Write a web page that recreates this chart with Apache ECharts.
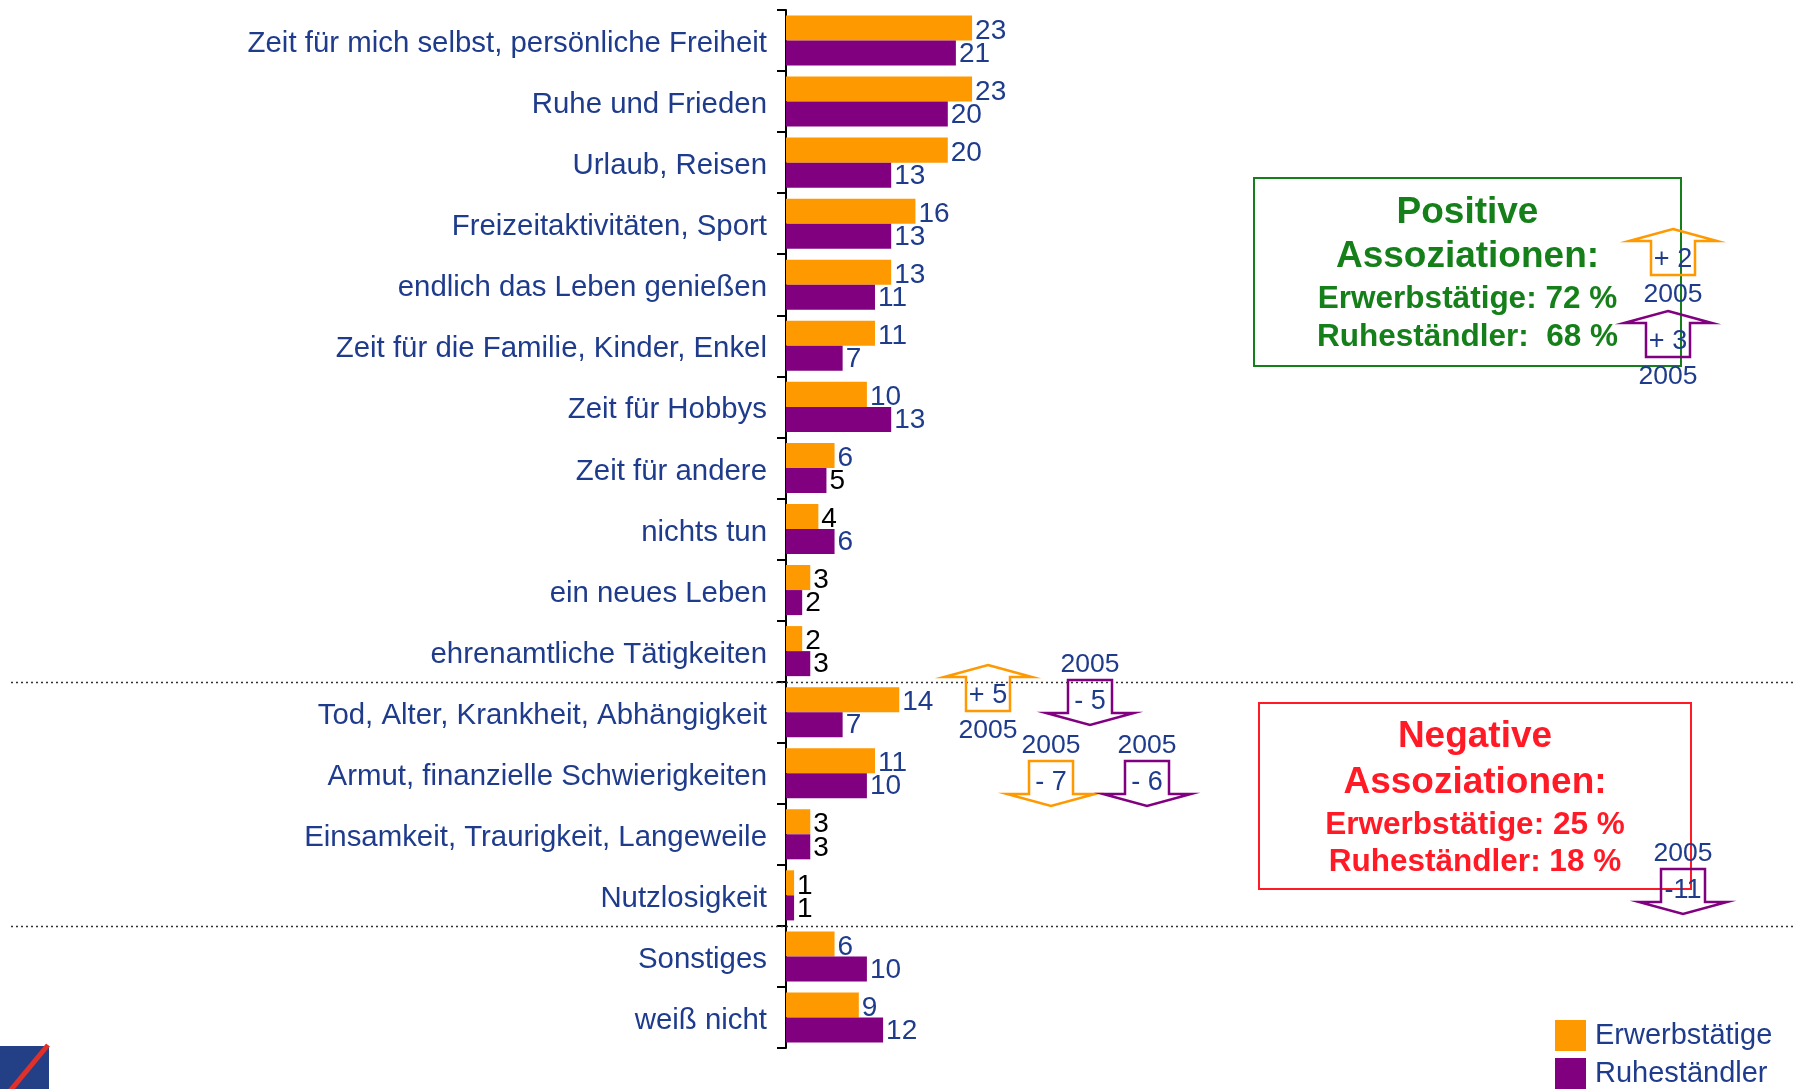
<!DOCTYPE html>
<html>
<head>
<meta charset="utf-8">
<script src="https://cdn.jsdelivr.net/npm/echarts@6/dist/echarts.min.js"></script>
<style>
  html, body { margin: 0; padding: 0; background: #fff; }
  #chart { width: 1795px; height: 1089px; }
</style>
</head>
<body>
<div id="chart"></div>
<script>
// Daten
const categories = [
  'Zeit für mich selbst, persönliche Freiheit',
  'Ruhe und Frieden',
  'Urlaub, Reisen',
  'Freizeitaktivitäten, Sport',
  'endlich das Leben genießen',
  'Zeit für die Familie, Kinder, Enkel',
  'Zeit für Hobbys',
  'Zeit für andere',
  'nichts tun',
  'ein neues Leben',
  'ehrenamtliche Tätigkeiten',
  'Tod, Alter, Krankheit, Abhängigkeit',
  'Armut, finanzielle Schwierigkeiten',
  'Einsamkeit, Traurigkeit, Langeweile',
  'Nutzlosigkeit',
  'Sonstiges',
  'weiß nicht'
];
const erwerbstaetige = [23, 23, 20, 16, 13, 11, 10, 6, 4, 3, 2, 14, 11, 3, 1, 6, 9];
const ruhestaendler = [21, 20, 13, 13, 11, 7, 13, 5, 6, 2, 3, 7, 10, 3, 1, 10, 12];

// Veränderungen zu 2005 (Pfeile)
const changes = [
  { text: '+ 2', dir: 'up', color: '#FF9900', x: 1673, y: 229 },
  { text: '+ 3', dir: 'up', color: '#800080', x: 1668, y: 311 },
  { text: '+ 5', dir: 'up', color: '#FF9900', x: 988, y: 665 },
  { text: '- 5', dir: 'down', color: '#800080', x: 1090, y: 680 },
  { text: '- 7', dir: 'down', color: '#FF9900', x: 1051, y: 761 },
  { text: '- 6', dir: 'down', color: '#800080', x: 1147, y: 761 },
  { text: '-11', dir: 'down', color: '#800080', x: 1683, y: 869 }
];

const NAVY = '#1F3C8C';
const FONT = '"Liberation Sans", Arial, sans-serif';

function withLabelColor(values) {
  return values.map(v => ({
    value: v,
    label: { color: v <= 5 ? '#000' : NAVY }
  }));
}

function arrowGraphic(c) {
  const x = c.x, y = c.y;
  let pts, textY, yearY;
  if (c.dir === 'up') {
    pts = [[x, y], [x + 44, y + 12], [x + 22, y + 12], [x + 22, y + 46],
           [x - 22, y + 46], [x - 22, y + 12], [x - 44, y + 12]];
    textY = y + 31;
    yearY = y + 66;
  } else {
    pts = [[x - 22, y], [x + 22, y], [x + 22, y + 33], [x + 44, y + 33],
           [x, y + 45], [x - 44, y + 33], [x - 22, y + 33]];
    textY = y + 22;
    yearY = y - 15;
  }
  return [
    { type: 'polygon', shape: { points: pts }, style: { fill: 'none', stroke: c.color, lineWidth: 2.5 }, z: 10 },
    { type: 'text', x: x, y: textY, style: { text: c.text, fill: NAVY, font: '27px ' + FONT, align: 'center', verticalAlign: 'middle' }, z: 11 },
    { type: 'text', x: x, y: yearY, style: { text: '2005', fill: NAVY, font: '26.5px ' + FONT, align: 'center', verticalAlign: 'middle' }, z: 11 }
  ];
}

function boxGraphic(x, y, w, h, color, lines) {
  const g = [{ type: 'rect', shape: { x: x, y: y, width: w, height: h }, style: { fill: 'none', stroke: color, lineWidth: 2 }, z: 5 }];
  lines.forEach(l => {
    g.push({ type: 'text', x: x + w / 2 + (l.dx || 0), y: l.y, style: { text: l.text, fill: color, font: 'bold ' + l.size + 'px ' + FONT, align: 'center', verticalAlign: 'middle' }, z: 6 });
  });
  return g;
}

const chart = echarts.init(document.getElementById('chart'));

const option = {
  animation: false,
  textStyle: { fontFamily: FONT },
  grid: { left: 786, top: 10, width: 809, bottom: 41, containLabel: false },
  legend: {
    orient: 'vertical',
    left: 1555,
    top: 1020,
    padding: 0,
    itemWidth: 31,
    itemHeight: 31,
    itemGap: 7,
    icon: 'rect',
    textStyle: { fontSize: 29, color: NAVY, fontFamily: FONT, padding: [0, 0, 0, 4] },
    data: ['Erwerbstätige', 'Ruheständler']
  },
  xAxis: {
    type: 'value',
    min: 0,
    max: 100,
    show: false,
    splitLine: { show: false }
  },
  yAxis: {
    type: 'category',
    inverse: true,
    data: categories,
    axisLine: { show: true, lineStyle: { color: '#000', width: 2 } },
    axisTick: { show: true, length: 9, lineStyle: { color: '#000', width: 2 } },
    axisLabel: {
      margin: 19,
      formatter: v => '{c|' + v + '}',
      rich: { c: { fontSize: 29.4, color: NAVY, fontFamily: FONT, padding: [7, 0, 0, 0] } }
    }
  },
  series: [
    {
      name: 'Erwerbstätige',
      type: 'bar',
      data: withLabelColor(erwerbstaetige),
      itemStyle: { color: '#FF9900' },
      barGap: '0%',
      barCategoryGap: '18%',
      label: { show: true, position: 'right', distance: 3, fontSize: 28, fontFamily: FONT, offset: [0, 3] }
    },
    {
      name: 'Ruheständler',
      type: 'bar',
      data: withLabelColor(ruhestaendler),
      itemStyle: { color: '#800080' },
      barGap: '0%',
      barCategoryGap: '18%',
      label: { show: true, position: 'right', distance: 3, fontSize: 28, fontFamily: FONT, offset: [0, 1] }
    }
  ]
};

chart.setOption(option);

// Trennlinien zwischen den Gruppen (über die Kategorieachse berechnet)
function boundaryY(i) {
  const a = chart.convertToPixel({ yAxisIndex: 0 }, categories[i]);
  const b = chart.convertToPixel({ yAxisIndex: 0 }, categories[i + 1]);
  return (a + b) / 2;
}
const sepLines = [10, 14].map(i => {
  const y = Math.round(boundaryY(i)) + 0.5;
  return { type: 'line', shape: { x1: 11, y1: y, x2: 1795, y2: y }, style: { stroke: '#333', lineWidth: 1.5, lineDash: [2, 3] }, z: 1 };
});

let graphics = [].concat(
  sepLines,
  boxGraphic(1254, 178, 427, 188, '#15801A', [
    { text: 'Positive', size: 37, y: 213 },
    { text: 'Assoziationen:', size: 37, y: 257 },
    { text: 'Erwerbstätige: 72 %', size: 31.5, y: 299 },
    { text: 'Ruheständler:  68 %', size: 31.5, y: 337 }
  ]),
  boxGraphic(1259, 703, 432, 186, '#FF1A26', [
    { text: 'Negative', size: 37, y: 737 },
    { text: 'Assoziationen:', size: 37, y: 783 },
    { text: 'Erwerbstätige: 25 %', size: 31.5, y: 825 },
    { text: 'Ruheständler: 18 %', size: 31.5, y: 862 }
  ])
);
changes.forEach(c => { graphics = graphics.concat(arrowGraphic(c)); });

// Logo unten links
graphics.push(
  { type: 'rect', shape: { x: 0, y: 1046, width: 49, height: 43 }, style: { fill: '#233F85' }, z: 3 },
  { type: 'line', shape: { x1: 10, y1: 1091, x2: 48, y2: 1045 }, style: { stroke: '#E0302A', lineWidth: 5 }, z: 4 }
);

chart.setOption({ graphic: graphics });
</script>
</body>
</html>
